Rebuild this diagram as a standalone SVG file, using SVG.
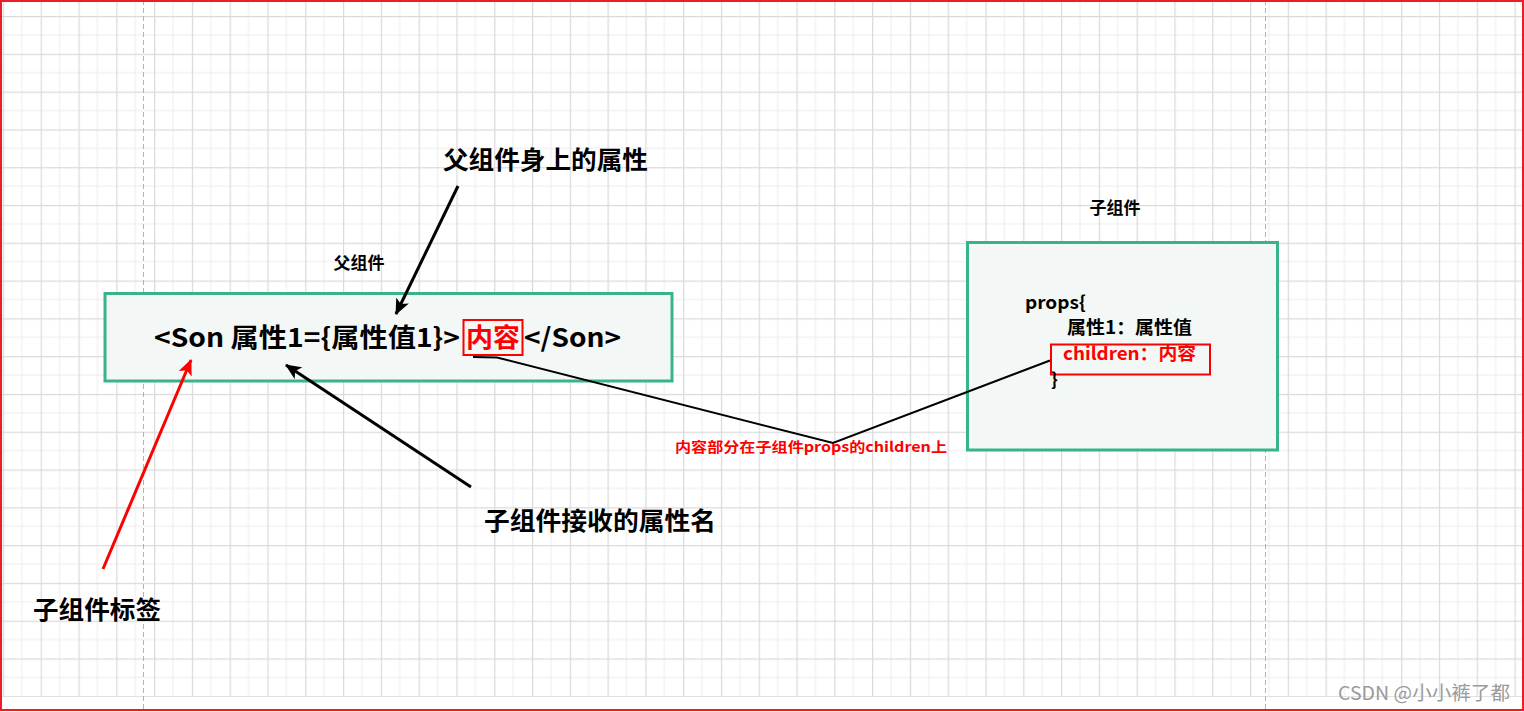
<svg xmlns="http://www.w3.org/2000/svg" width="1524" height="712" viewBox="0 0 1524 712">
<style>
.t{font-family:"Noto Sans CJK SC","Noto Sans",sans-serif;font-weight:bold;fill:#000}
.r{fill:#f00}
.box{fill:#f3f7f6;stroke:#38b38b;stroke-width:3}
.rbox{fill:none;stroke:#f00;stroke-width:2}
.dash{stroke:#b3b3b3;stroke-width:1;stroke-dasharray:5 3}
.ln{fill:none;stroke:#000;stroke-width:3}
.ln2{fill:none;stroke:#000;stroke-width:2}
.rln{fill:none;stroke:#f00;stroke-width:3}
</style>
<defs>
<pattern id="grid" patternUnits="userSpaceOnUse" x="2.9" y="16" width="37.79" height="37.79">
<rect x="0" y="0" width="37.79" height="37.79" fill="#fff"/>
<rect x="18.4" y="0" width="1" height="37.79" fill="#ededed"/>
<rect x="0" y="18.4" width="37.79" height="1" fill="#ededed"/>
<rect x="0" y="0" width="1.2" height="37.79" fill="#dadada"/>
<rect x="0" y="0" width="37.79" height="1.2" fill="#dadada"/>
</pattern>
<marker id="ab" markerUnits="userSpaceOnUse" markerWidth="18" markerHeight="14" refX="15" refY="7" orient="auto">
<path d="M0,0 L16,7 L0,14 L4,7 z" fill="#000"/>
</marker>
<marker id="ar" markerUnits="userSpaceOnUse" markerWidth="18" markerHeight="14" refX="15" refY="7" orient="auto">
<path d="M0,0 L16,7 L0,14 L4,7 z" fill="#f00"/>
</marker>
</defs>
<rect x="0" y="0" width="1524" height="712" fill="#fff"/>
<rect x="0" y="0" width="1524" height="697" fill="url(#grid)"/>
<line class="dash" x1="143.5" y1="0" x2="143.5" y2="712"/>
<line class="dash" x1="1265.5" y1="0" x2="1265.5" y2="712"/>

<g id="node-parent">
<rect class="box" x="105" y="293.5" width="567" height="87.5"/>
<text class="t" x="154" y="347" font-size="26" textLength="306" lengthAdjust="spacingAndGlyphs">&lt;Son 属性1={属性值1}&gt;</text>
<rect class="rbox" x="463.5" y="320" width="59" height="35"/>
<text class="t r" x="466" y="347" font-size="26" textLength="54" lengthAdjust="spacingAndGlyphs">内容</text>
<text class="t" x="524" y="347" font-size="26" textLength="97" lengthAdjust="spacingAndGlyphs">&lt;/Son&gt;</text>
</g>

<g id="node-child">
<rect class="box" x="967.5" y="242.5" width="310" height="207.5"/>
<text class="t" x="1025" y="309" font-size="18" textLength="61" lengthAdjust="spacingAndGlyphs">props{</text>
<text class="t" x="1067" y="334" font-size="18" textLength="125" lengthAdjust="spacingAndGlyphs">属性1：属性值</text>
<rect class="rbox" x="1051" y="344.5" width="159" height="30"/>
<text class="t r" x="1063" y="360" font-size="18" textLength="133" lengthAdjust="spacingAndGlyphs">children：内容</text>
<text class="t" x="1051" y="386" font-size="18">}</text>
</g>

<g id="connectors">
<path class="ln2" d="M473,357 L497,357.5 L833,443 L1050,360.5"/>
<line class="ln" x1="458" y1="186" x2="396" y2="314" marker-end="url(#ab)"/>
<line class="ln" x1="471" y1="487" x2="286" y2="365" marker-end="url(#ab)"/>
<line class="rln" x1="103" y1="569" x2="191" y2="360" marker-end="url(#ar)"/>
</g>

<g id="label-parent"><text class="t" x="359" y="269" font-size="17" text-anchor="middle">父组件</text></g>
<g id="label-child"><text class="t" x="1115" y="214" font-size="17" text-anchor="middle">子组件</text></g>
<g id="label-parent-attr"><text class="t" x="443" y="169" font-size="25" textLength="205" lengthAdjust="spacingAndGlyphs">父组件身上的属性</text></g>
<g id="label-prop-name"><text class="t" x="484" y="530" font-size="25" textLength="232" lengthAdjust="spacingAndGlyphs">子组件接收的属性名</text></g>
<g id="label-child-tag"><text class="t" x="33" y="619" font-size="25" textLength="128" lengthAdjust="spacingAndGlyphs">子组件标签</text></g>
<g id="label-children"><text class="t r" x="675" y="452" font-size="14" textLength="272" lengthAdjust="spacingAndGlyphs">内容部分在子组件props的children上</text></g>

<text x="1338" y="700" font-family="'Noto Sans CJK SC','Noto Sans',sans-serif" font-size="19" fill="#9a9a9a" textLength="172" lengthAdjust="spacingAndGlyphs">CSDN @小小裤了都</text>
<rect x="1" y="1" width="1522" height="709" fill="none" stroke="#ee1c25" stroke-width="2"/>
</svg>
